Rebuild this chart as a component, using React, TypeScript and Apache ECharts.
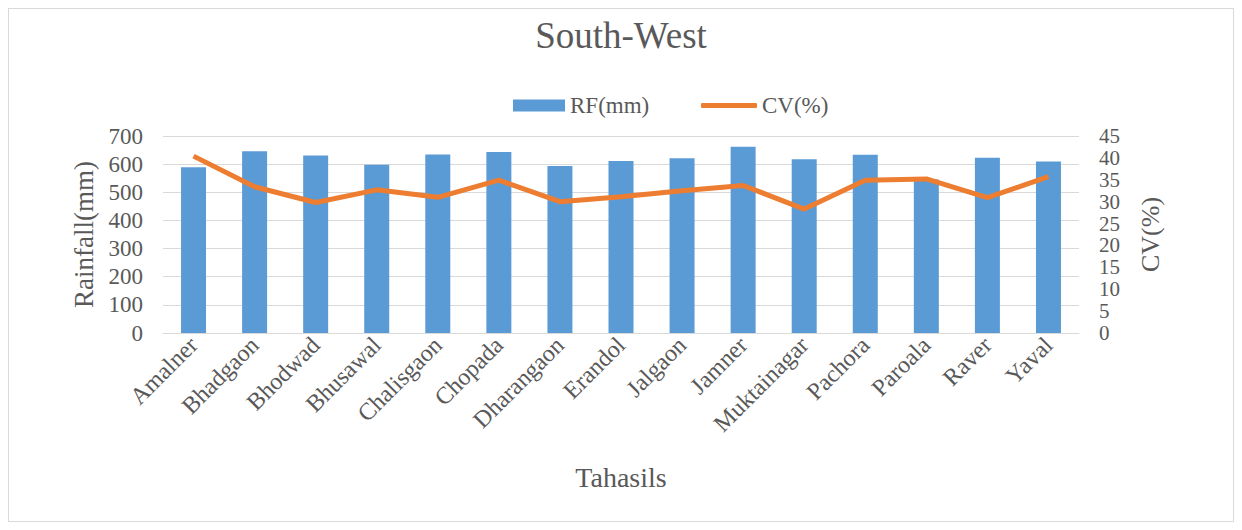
import React, { useEffect, useRef } from "react";
import * as echarts from "echarts";

const categories = ["Amalner", "Bhadgaon", "Bhodwad", "Bhusawal", "Chalisgaon", "Chopada", "Dharangaon", "Erandol", "Jalgaon", "Jamner", "Muktainagar", "Pachora", "Paroala", "Raver", "Yaval"];
const rfValues = [589, 646, 631, 598, 634, 643, 593, 611, 621, 662, 617, 633, 545, 623, 609];
const cvValues = [40.4, 33.4, 29.8, 32.7, 31.0, 34.9, 30.0, 31.1, 32.5, 33.7, 28.3, 34.9, 35.2, 30.9, 35.7];

const FONT = "Liberation Serif";
const TXT = "#595959";

export default function App() {
  const ref = useRef<HTMLDivElement>(null);
  useEffect(() => {
    const chart = echarts.init(ref.current!, null, { renderer: "svg" });
    chart.setOption({
      animation: false,
      backgroundColor: "#fff",
      textStyle: { fontFamily: FONT },
      title: {
        text: "South-West",
        left: "center",
        top: 3,
        textStyle: { fontFamily: FONT, fontSize: 37, fontWeight: "normal", color: TXT },
      },
      legend: [
        {
          top: 80,
          left: 499,
          textStyle: { fontFamily: FONT, fontSize: 23, color: TXT },
          data: [{ name: "RF(mm)", icon: "rect" }],
          itemWidth: 52,
          itemHeight: 12,
        },
        {
          top: 80,
          left: 687,
          textStyle: { fontFamily: FONT, fontSize: 23, color: TXT },
          data: [{ name: "CV(%)", icon: "roundRect" }],
          itemWidth: 56,
          itemHeight: 5,
        },
      ],
      grid: { left: 154, right: 154, top: 127, bottom: 188 },
      xAxis: {
        type: "category",
        data: categories,
        name: "Tahasils",
        nameLocation: "middle",
        nameGap: 130,
        nameTextStyle: { fontFamily: FONT, fontSize: 28, color: TXT },
        axisLine: { lineStyle: { color: "#d9d9d9" } },
        axisTick: { show: false },
        axisLabel: { rotate: 45, fontFamily: FONT, fontSize: 24, color: TXT, margin: 8, interval: 0 },
      },
      yAxis: [
        {
          type: "value",
          min: 0,
          max: 700,
          interval: 100,
          name: "Rainfall(mm)",
          nameLocation: "middle",
          nameGap: 64,
          nameRotate: 90,
          nameTextStyle: { fontFamily: FONT, fontSize: 27, color: TXT },
          axisLine: { show: false },
          axisTick: { show: false },
          axisLabel: { fontFamily: FONT, fontSize: 23, lineHeight: 20, color: TXT, margin: 20 },
          splitLine: { lineStyle: { color: "#d9d9d9", width: 1 } },
        },
        {
          type: "value",
          min: 0,
          max: 45,
          interval: 5,
          name: "CV(%)",
          nameLocation: "middle",
          nameGap: 58,
          nameRotate: 90,
          nameTextStyle: { fontFamily: FONT, fontSize: 26, color: TXT },
          axisLine: { show: false },
          axisTick: { show: false },
          axisLabel: {
            fontFamily: FONT,
            fontSize: 21,
            lineHeight: 18,
            color: TXT,
            margin: 20,
            showMinLabel: true,
            showMaxLabel: true,
            hideOverlap: false,
          },
          splitLine: { show: false },
        },
      ],
      series: [
        {
          name: "RF(mm)",
          type: "bar",
          data: rfValues,
          barWidth: 25,
          itemStyle: { color: "#5B9BD5" },
          yAxisIndex: 0,
        },
        {
          name: "CV(%)",
          type: "line",
          data: cvValues,
          yAxisIndex: 1,
          symbol: "none",
          lineStyle: { color: "#ED7D31", width: 5 },
          itemStyle: { color: "#ED7D31" },
        },
      ],
    });
    return () => chart.dispose();
  }, []);
  return (
    <div style={{ width: 1226, height: 514, border: "1px solid #d9d9d9", boxSizing: "border-box" }}>
      <div ref={ref} style={{ width: 1224, height: 512 }} />
    </div>
  );
}
